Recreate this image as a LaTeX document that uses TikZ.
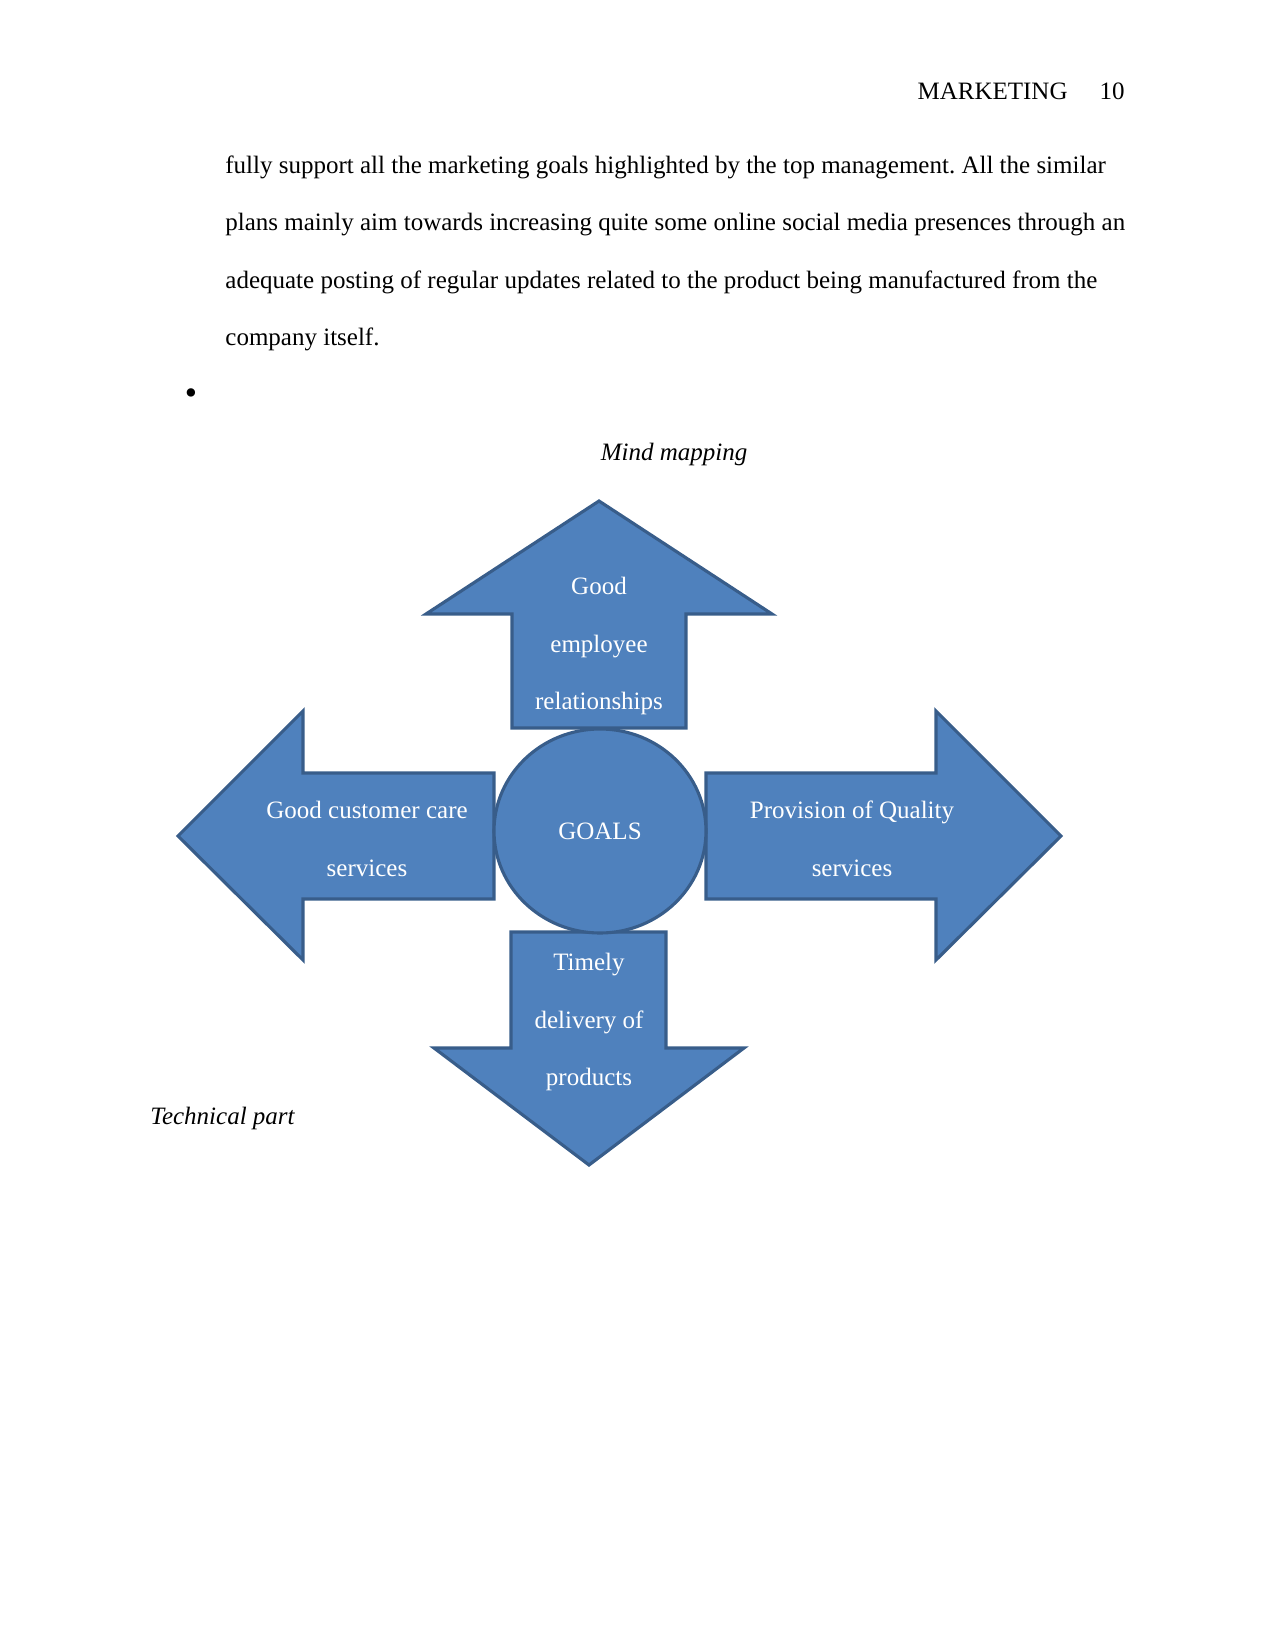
\documentclass[tikz,border=0pt]{standalone}
\usepackage{xcolor}
\usepackage{fontspec}
\setmainfont{Liberation Serif}
\usetikzlibrary{shapes.geometric}
\definecolor{officeblue}{HTML}{4F81BD}
\definecolor{officeedge}{HTML}{385D8A}
\frenchspacing

\begin{document}
\begin{tikzpicture}[
    x=0.48pt, y=-0.48pt,
    every node/.style={font=\fontsize{12}{27.6}\selectfont, inner sep=0pt},
    bodytext/.style={anchor=base west},
    blockarrow/.style={fill=officeblue, draw=officeedge, line width=1.5pt, line join=miter},
    maplabel/.style={text=white, align=center},
]
\useasboundingbox (0,0) rectangle (1275,1650);
% running head and the end of the paragraph above the figure
\node[anchor=base east] (pagenum) at (1125,100) {10};
\node[anchor=base east] (runhead) at (1068,100) {MARKETING};
\node[bodytext] (para1) at (225,174) {fully support all the marketing goals highlighted by the top management. All the similar};
\node[bodytext] (para2) at (225,231) {plans mainly aim towards increasing quite some online social media presences through an};
\node[bodytext] (para3) at (225,289) {adequate posting of regular updates related to the product being manufactured from the};
\node[bodytext] (para4) at (225,346) {company itself.};
\node[scale=1.4] (bullet) at (191,397) {\textbullet};
\node[anchor=base] (maptitle) at (674,460) {\itshape Mind mapping};
% four block arrows pointing away from the centre
\draw[blockarrow] (599,501) -- (772,614) -- (686,614) -- (686,728) -- (512,728) -- (512,614) -- (426,614) -- cycle;
\draw[blockarrow] (178,836) -- (303,711) -- (303,773) -- (494,773) -- (494,899) -- (303,899) -- (303,960) -- cycle;
\draw[blockarrow] (1061,836) -- (936,711) -- (936,773) -- (706,773) -- (706,899) -- (936,899) -- (936,960) -- cycle;
\draw[blockarrow] (589,1165) -- (744,1048) -- (666,1048) -- (666,932) -- (511,932) -- (511,1048) -- (434,1048) -- cycle;
% centre ellipse
\node[ellipse, blockarrow, minimum width=212*0.48pt, minimum height=204*0.48pt, maplabel] (goals) at (600,831) {GOALS};
\node[maplabel] (employee) at (599,646) {Good\\employee\\relationships};
\node[maplabel] (customer) at (367,839) {Good customer care\\services};
\node[maplabel] (quality) at (852,839) {Provision of Quality\\services};
\node[maplabel] (delivery) at (589,1022) {Timely\\delivery of\\products};
\node[anchor=base west] (techpart) at (150,1124) {\itshape Technical part};
\end{tikzpicture}
\end{document}
